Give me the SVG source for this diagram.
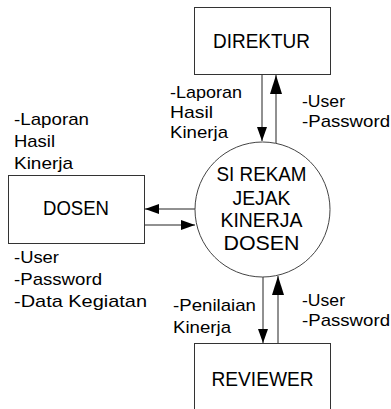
<svg xmlns="http://www.w3.org/2000/svg" width="391" height="409" viewBox="0 0 391 409">
<style>
.box{fill:#fff;stroke:#333;stroke-width:1}
.proc{fill:#fff;stroke:#444;stroke-width:1}
.ln{stroke:#222;stroke-width:1;fill:none}
.t{font-family:"Liberation Sans",Arial,sans-serif;fill:#000}
.big{font-size:21px;text-anchor:middle}
.mid{font-size:19.5px;text-anchor:middle}
.sm{font-size:17px}
</style>
<defs>
<marker id="ah" markerUnits="userSpaceOnUse" markerWidth="14" markerHeight="10" refX="14" refY="5" orient="auto">
<polygon points="0,0 14,5 0,10" fill="#000"/>
</marker>
<marker id="ahL" markerUnits="userSpaceOnUse" markerWidth="19" markerHeight="12" refX="19" refY="6" orient="auto">
<polygon points="0,0 19,6 0,12" fill="#000"/>
</marker>
</defs>
<g id="connectors">
<line class="ln" x1="262" y1="74" x2="262" y2="141" marker-end="url(#ah)"/>
<line class="ln" x1="276" y1="143" x2="276" y2="75" marker-end="url(#ahL)"/>
<line class="ln" x1="195" y1="209" x2="145" y2="209" marker-end="url(#ah)"/>
<line class="ln" x1="144" y1="225" x2="195" y2="225" marker-end="url(#ah)"/>
<line class="ln" x1="263" y1="277" x2="263" y2="343" marker-end="url(#ah)"/>
<line class="ln" x1="278" y1="343" x2="278" y2="276" marker-end="url(#ahL)"/>
</g>
<g id="direktur">
<rect class="box" x="194.5" y="7.5" width="136" height="67"/>
<text class="t big" x="261.5" y="48" textLength="97" lengthAdjust="spacingAndGlyphs">DIREKTUR</text>
</g>
<g id="dosen">
<rect class="box" x="8.5" y="175.5" width="136" height="68"/>
<text class="t big" x="76" y="215" textLength="66" lengthAdjust="spacingAndGlyphs">DOSEN</text>
</g>
<g id="reviewer">
<rect class="box" x="194.5" y="343.5" width="136" height="80"/>
<text class="t big" x="262.5" y="386" textLength="102" lengthAdjust="spacingAndGlyphs">REVIEWER</text>
</g>
<g id="process">
<circle class="proc" cx="262.5" cy="209.5" r="67.5"/>
<text class="t mid" x="261.5" y="181" textLength="90" lengthAdjust="spacingAndGlyphs">SI REKAM</text>
<text class="t mid" x="261.5" y="204.5" textLength="58" lengthAdjust="spacingAndGlyphs">JEJAK</text>
<text class="t mid" x="261.5" y="227" textLength="82" lengthAdjust="spacingAndGlyphs">KINERJA</text>
<text class="t mid" x="261.5" y="249.5" textLength="76" lengthAdjust="spacingAndGlyphs">DOSEN</text>
</g>
<g id="labels">
<text class="t sm" x="170" y="98" textLength="72" lengthAdjust="spacingAndGlyphs">-Laporan</text>
<text class="t sm" x="170" y="118" textLength="43" lengthAdjust="spacingAndGlyphs">Hasil</text>
<text class="t sm" x="170" y="138" textLength="58" lengthAdjust="spacingAndGlyphs">Kinerja</text>
<text class="t sm" x="302" y="107" textLength="43" lengthAdjust="spacingAndGlyphs">-User</text>
<text class="t sm" x="302" y="127" textLength="88" lengthAdjust="spacingAndGlyphs">-Password</text>
<text class="t sm" x="14" y="125" textLength="75" lengthAdjust="spacingAndGlyphs">-Laporan</text>
<text class="t sm" x="14" y="147" textLength="41" lengthAdjust="spacingAndGlyphs">Hasil</text>
<text class="t sm" x="14" y="169" textLength="59" lengthAdjust="spacingAndGlyphs">Kinerja</text>
<text class="t sm" x="14" y="263" textLength="45" lengthAdjust="spacingAndGlyphs">-User</text>
<text class="t sm" x="14" y="285" textLength="88" lengthAdjust="spacingAndGlyphs">-Password</text>
<text class="t sm" x="14" y="307" textLength="133" lengthAdjust="spacingAndGlyphs">-Data Kegiatan</text>
<text class="t sm" x="173" y="311" textLength="83" lengthAdjust="spacingAndGlyphs">-Penilaian</text>
<text class="t sm" x="173" y="333" textLength="58" lengthAdjust="spacingAndGlyphs">Kinerja</text>
<text class="t sm" x="302" y="306" textLength="43" lengthAdjust="spacingAndGlyphs">-User</text>
<text class="t sm" x="302" y="326" textLength="88" lengthAdjust="spacingAndGlyphs">-Password</text>
</g>
</svg>
